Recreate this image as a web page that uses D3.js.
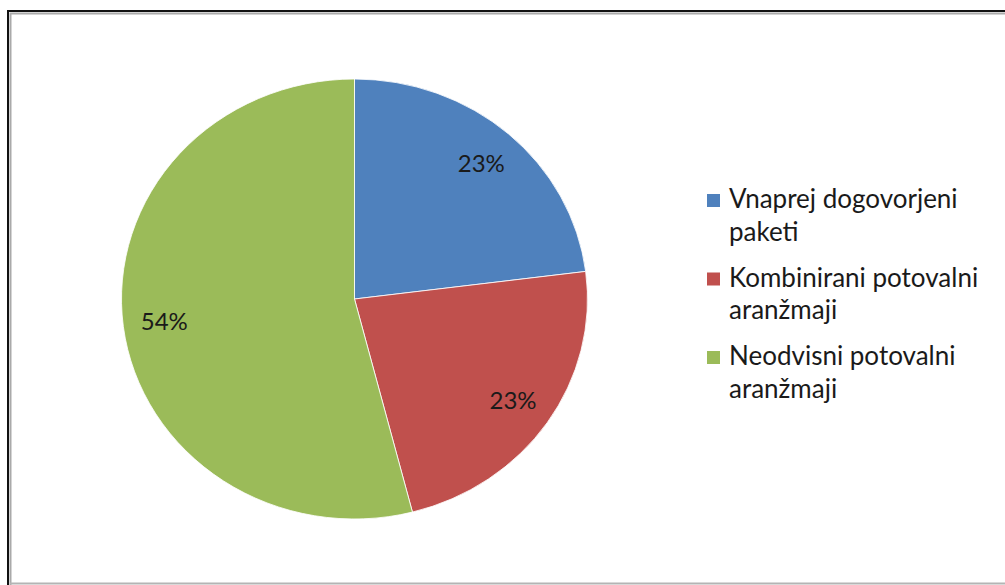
<!DOCTYPE html>
<html>
<head>
<meta charset="utf-8">
<script src="https://cdn.jsdelivr.net/npm/d3@7"></script>
<style>
  body { margin: 0; background: #fff; }
  svg { display: block; }
</style>
</head>
<body>
<div id="container"></div>
<script>
// chart data
var categories = ["Vnaprej dogovorjeni paketi", "Kombinirani potovalni aranžmaji", "Neodvisni potovalni aranžmaji"];
var legendLines = [["Vnaprej dogovorjeni", "paketi"], ["Kombinirani potovalni", "aranžmaji"], ["Neodvisni potovalni", "aranžmaji"]];
var values = [23, 23, 54];
var colors = ["#4F81BD", "#C0504D", "#9BBB59"];

var width = 1005, height = 585;
var cx = 354.5, cy = 299, radius = 220;
var sx = 233 / 220; // the picture is a little wider than tall

var svg = d3.select("#container")
    .append("svg")
    .attr("width", width)
    .attr("height", height);

// frame (black outer, grey inner)
svg.append("path")
    .attr("d", "M8," + height + " L8,11 L" + width + ",11")
    .attr("fill", "none")
    .attr("stroke", "#111")
    .attr("stroke-width", 2);
svg.append("path")
    .attr("d", "M10.5," + height + " L10.5,13.5 L" + width + ",13.5")
    .attr("fill", "none")
    .attr("stroke", "#aaa")
    .attr("stroke-width", 2);
svg.append("line")
    .attr("x1", 10).attr("x2", width)
    .attr("y1", 583.5).attr("y2", 583.5)
    .attr("stroke", "#b4b4b4")
    .attr("stroke-width", 2);

var pie = d3.pie().sort(null).value(function(d){ return d; });
var arcs = pie(values);
var arc = d3.arc().innerRadius(0).outerRadius(radius);

var g = svg.append("g").attr("transform", "translate(" + cx + "," + cy + ")");

g.append("g")
    .attr("transform", "scale(" + sx + ",1)")
    .selectAll("path.slice")
    .data(arcs)
    .enter()
    .append("path")
        .attr("class", "slice")
        .attr("d", arc)
        .attr("fill", function(d, i){ return colors[i]; })
        .attr("stroke", "#fff")
        .attr("stroke-width", 0.8);

// percentage labels
var labelArc = d3.arc().innerRadius(181).outerRadius(181);
var total = d3.sum(values);
g.selectAll("text.pct")
    .data(arcs)
    .enter()
    .append("text")
        .attr("class", "pct")
        .attr("x", function(d){ return labelArc.centroid(d)[0] * sx; })
        .attr("y", function(d){ return labelArc.centroid(d)[1]; })
        .attr("dy", "0.36em")
        .attr("text-anchor", "middle")
        .attr("font-family", "Lato, 'Open Sans', sans-serif")
        .attr("font-size", "24px")
        .attr("fill", "#1a1a1a")
        .text(function(d){ return Math.round(d.data / total * 100) + "%"; });

// legend
var legend = svg.append("g").attr("transform", "translate(707,0)");
var items = legend.selectAll("g.item")
    .data(categories)
    .enter()
    .append("g")
        .attr("class", "item")
        .attr("transform", function(d, i){ return "translate(0," + (208 + i * 78.5) + ")"; });

items.append("rect")
    .attr("x", 0)
    .attr("y", -14)
    .attr("width", 13)
    .attr("height", 13)
    .attr("fill", function(d, i){ return colors[i]; });

items.each(function(d, i){
    var t = d3.select(this).append("text")
        .attr("x", 22)
        .attr("y", 0)
        .attr("font-family", "Lato, 'Open Sans', sans-serif")
        .attr("font-size", "26px")
        .attr("fill", "#1a1a1a");
    legendLines[i].forEach(function(line, j){
        t.append("tspan")
            .attr("x", 22)
            .attr("dy", j == 0 ? 0 : 32.5)
            .text(line);
    });
});
</script>
</body>
</html>
